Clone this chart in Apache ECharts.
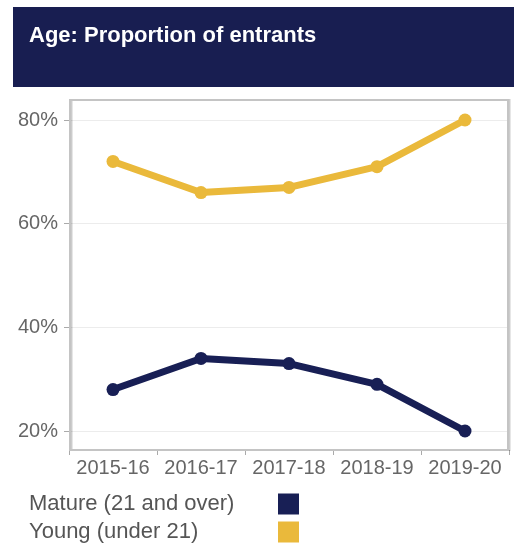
<!DOCTYPE html>
<html>
<head>
<meta charset="utf-8" />
<title>Age: Proportion of entrants</title>
<style>
	html, body { margin: 0; padding: 0; background: #fff; }
	#chart { width: 514px; height: 554px; }
</style>
</head>
<body>
<div id="chart"></div>
<script src="https://cdn.jsdelivr.net/npm/echarts@6/dist/echarts.min.js"></script>
<script>
	var years = ['2015-16', '2016-17', '2017-18', '2018-19', '2019-20'];
	var mature = [28, 34, 33, 29, 20];
	var young = [72, 66, 67, 71, 80];
	var yTicks = [20, 40, 60, 80];

	var navy = '#181f55';
	var gold = '#eab93b';

	var myChart = echarts.init(document.getElementById('chart'));

	var options = {
		animation: false,
		title: {
			text: 'Age: Proportion of entrants',
			left: 29,
			top: 25,
			padding: 0,
			textStyle: {
				color: '#fff',
				fontFamily: 'Liberation Sans, Arial',
				fontWeight: 'bold',
				fontSize: 22
			}
		},
		graphic: [
			{ // header band
				type: 'rect', z: -1,
				shape: { x: 13, y: 7, width: 501, height: 80 },
				style: { fill: '#181e51' }
			},
			{ // plot frame
				type: 'rect', z: 10, silent: true,
				shape: { x: 70, y: 100, width: 438, height: 350 },
				style: { fill: 'none', stroke: '#c4c4c4', lineWidth: 2,
					shadowColor: 'rgba(0,0,0,0.2)', shadowBlur: 0, shadowOffsetX: 1.5, shadowOffsetY: 0 }
			}
		],
		legend: {
			orient: 'vertical',
			left: 29,
			top: 493,
			padding: 0,
			align: 'right',
			icon: 'rect',
			itemWidth: 21,
			itemHeight: 21,
			itemGap: 6,
			selectedMode: false,
			data: ['Mature (21 and over)', 'Young (under 21)'],
			formatter: '{a|{name}}',
			textStyle: {
				rich: {
					a: { width: 244, align: 'left', fontSize: 22, color: '#555', fontFamily: 'Liberation Sans, Arial' }
				}
			}
		},
		grid: { left: 69, right: 5, top: 120, bottom: 123 },
		xAxis: {
			type: 'category',
			data: years,
			boundaryGap: true,
			offset: 19,
			axisLine: { show: false },
			axisTick: { show: true, length: 5, lineStyle: { color: '#aaa' } },
			axisLabel: { interval: 0, hideOverlap: false, margin: 8, fontSize: 20, color: '#666', fontFamily: 'Liberation Sans, Arial' }
		},
		yAxis: {
			type: 'value',
			min: yTicks[0],
			max: yTicks[yTicks.length - 1],
			interval: 20,
			axisLine: { show: false },
			axisTick: { show: true, length: 5, lineStyle: { color: '#aaa' } },
			axisLabel: { margin: 11, fontSize: 20, color: '#666', fontFamily: 'Liberation Sans, Arial', formatter: '{value}%' },
			splitLine: { lineStyle: { color: '#ececec', width: 1 } }
		},
		series: [
			{
				name: 'Mature (21 and over)',
				type: 'line',
				data: mature,
				color: navy,
				symbol: 'circle',
				symbolSize: 13,
				lineStyle: { width: 7, color: navy },
				itemStyle: { color: navy }
			},
			{
				name: 'Young (under 21)',
				type: 'line',
				data: young,
				color: gold,
				symbol: 'circle',
				symbolSize: 13,
				lineStyle: { width: 7, color: gold },
				itemStyle: { color: gold }
			}
		]
	};

	myChart.setOption(options);
</script>
</body>
</html>
